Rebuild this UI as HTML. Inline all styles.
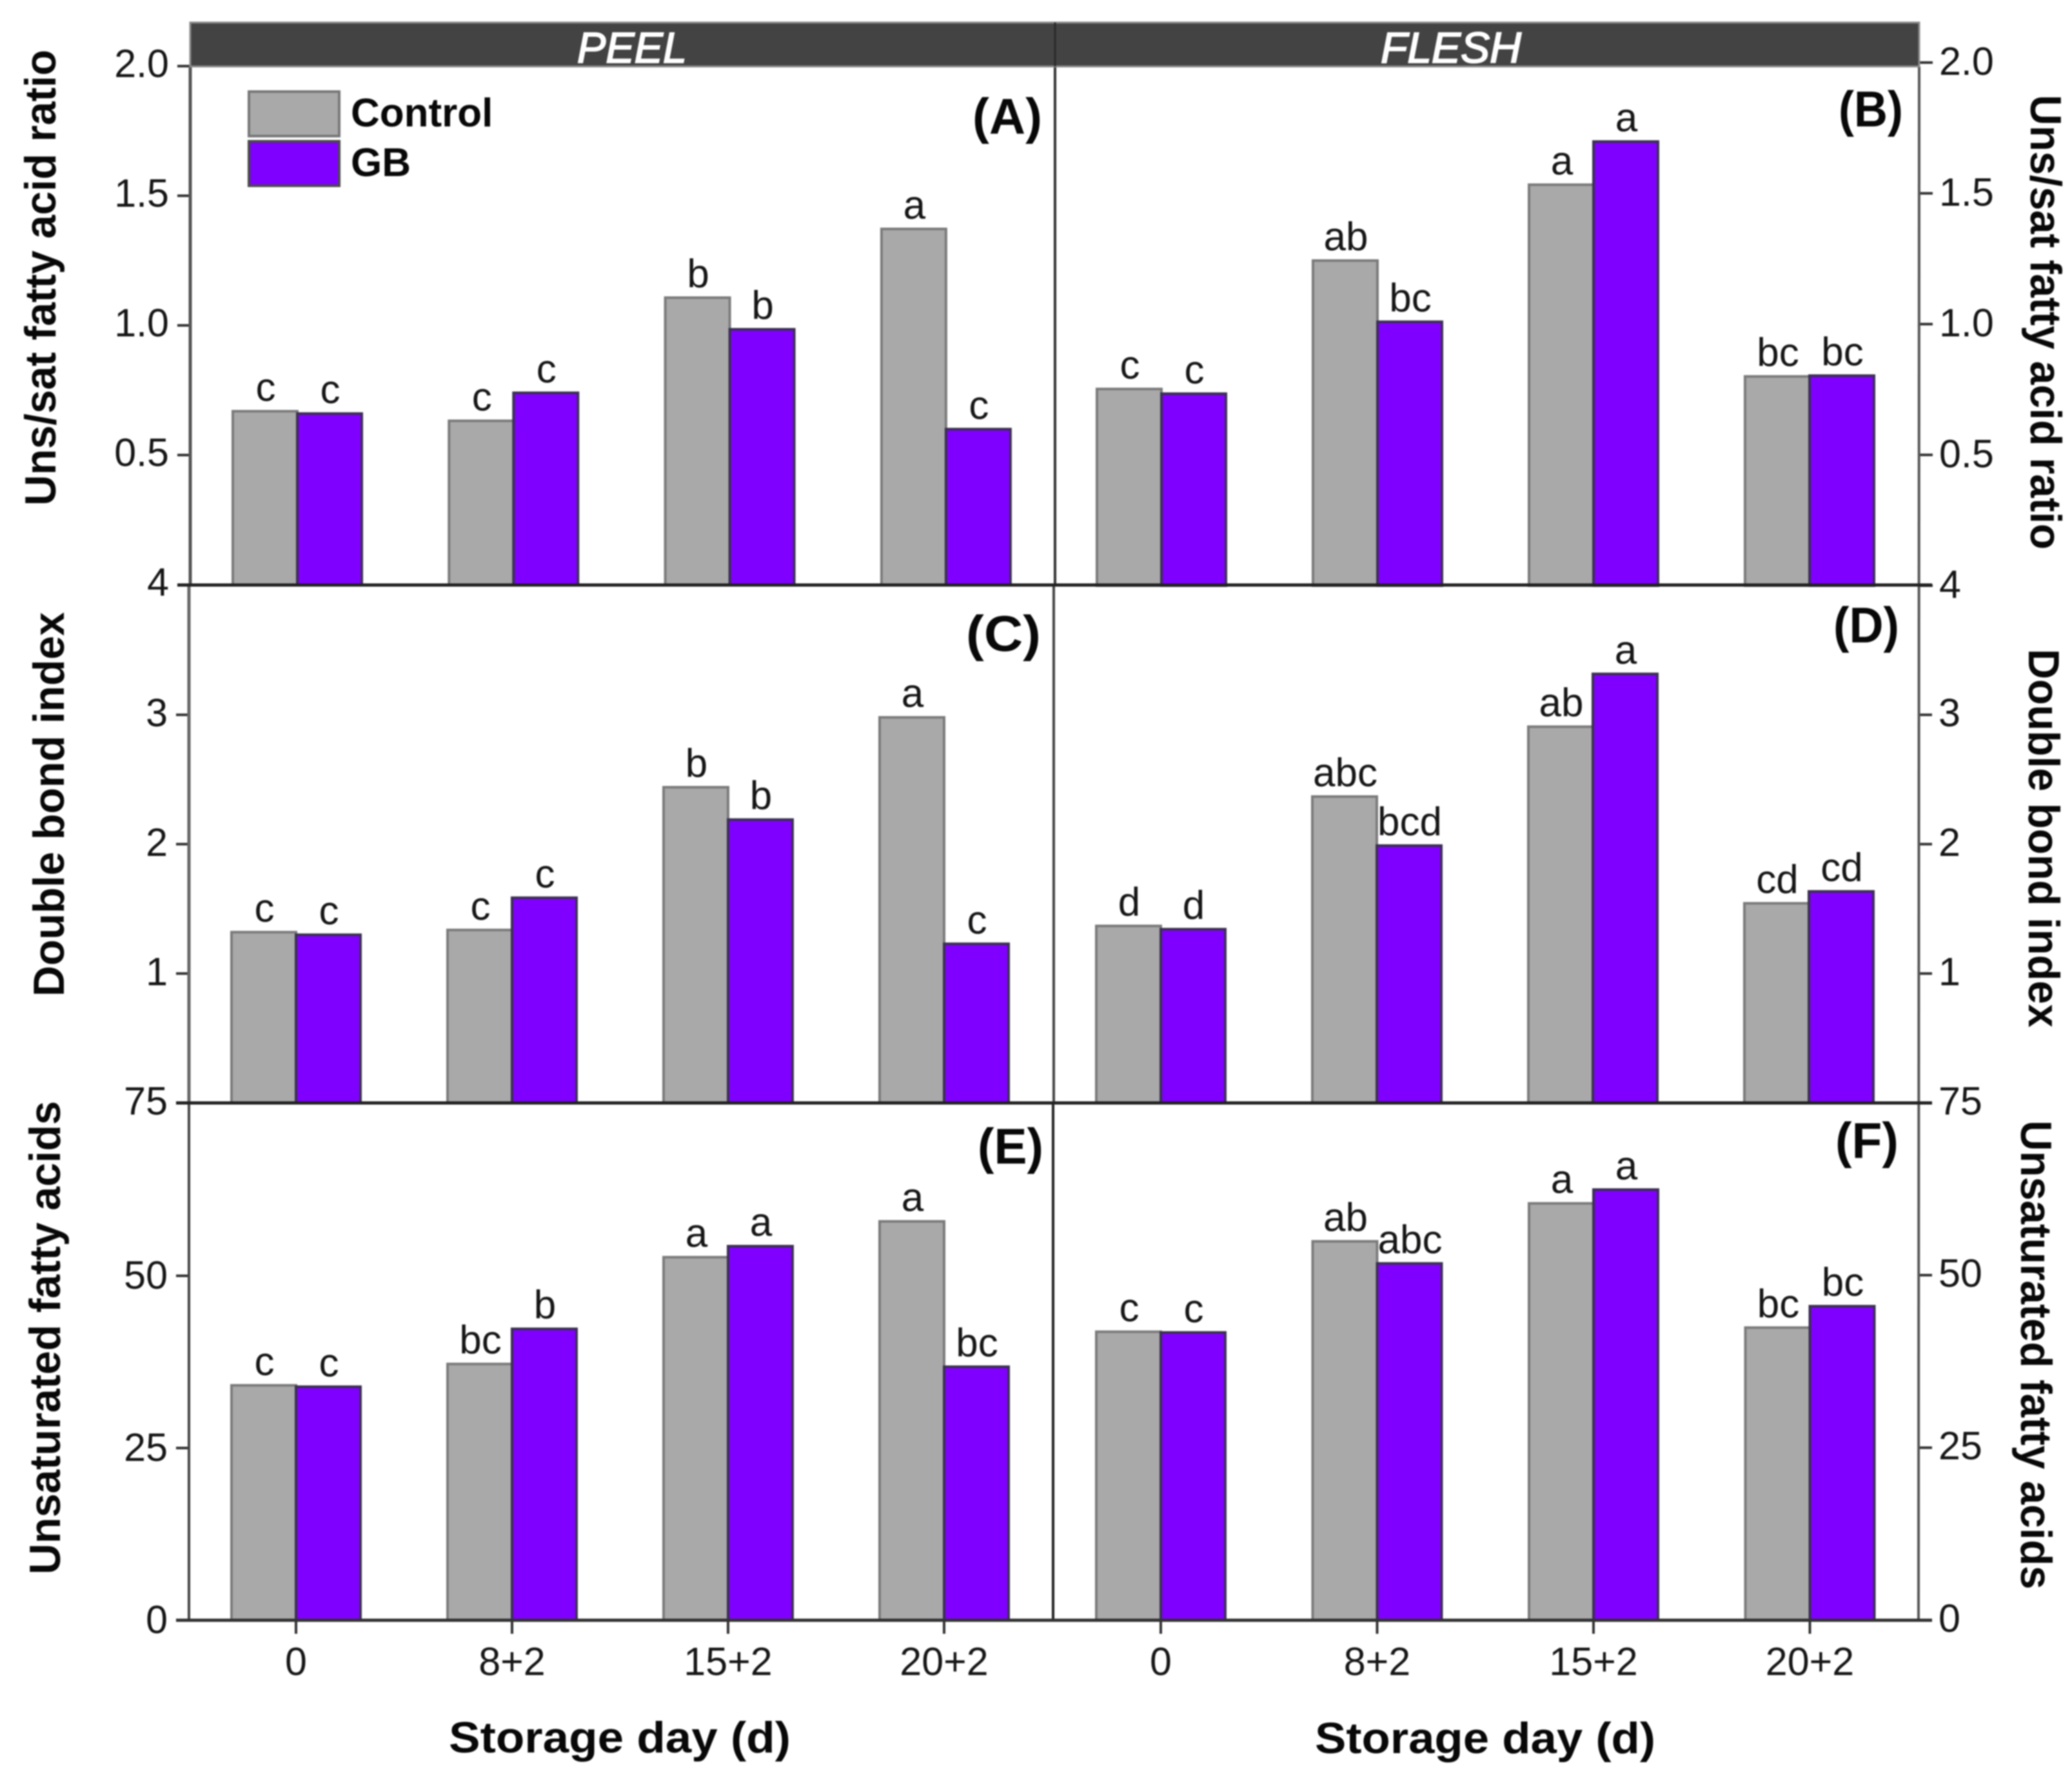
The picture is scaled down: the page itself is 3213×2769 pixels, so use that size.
<!DOCTYPE html>
<html lang="en">
<head>
<meta charset="utf-8">
<title>Fatty acid indices in peel and flesh</title>
<style>
  html, body { margin: 0; padding: 0; background: #fff; }
  #chart { display: block; width: 3213px; height: 2769px; filter: blur(1.1px); }
  text { font-family: "Liberation Sans", Arial, sans-serif; fill: #161616; }
  .tick { font-size: 61px; }
  .letter { font-size: 62px; text-anchor: middle; }
  .title { font-size: 68px; font-weight: bold; fill: #080808; }
  .panel-tag { font-size: 78px; font-weight: bold; text-anchor: end; fill: #080808; }
  .legend-text { font-size: 62px; font-weight: bold; fill: #080808; }
  .head { font-size: 67px; font-style: italic; fill: #fff; stroke: #fff; stroke-width: 2px; }
</style>
</head>
<body>
<svg id="chart" xmlns="http://www.w3.org/2000/svg" width="3213" height="2769" viewBox="0 0 3213 2769">
  <rect x="0" y="0" width="3213" height="2769" fill="#ffffff"/>
  <g id="marks"></g>

  <rect x="295" y="35" width="2681" height="68" fill="#434343" stroke="#8a8a8a" stroke-width="3"/>
  <line x1="1636" y1="35" x2="1636" y2="103" stroke="#2a2a2a" stroke-width="3"/>
  <text class="head" x="895" y="97" textLength="170" lengthAdjust="spacingAndGlyphs">PEEL</text>
  <text class="head" x="2141" y="97" textLength="218" lengthAdjust="spacingAndGlyphs">FLESH</text>

  <g>
    <rect x="386" y="142" width="140" height="69" fill="#a9a9a9" stroke="#777" stroke-width="4"/>
    <rect x="386" y="219" width="140" height="69" fill="#8000ff" stroke="#4a4a4a" stroke-width="4"/>
    <text class="legend-text" x="544" y="196">Control</text>
    <text class="legend-text" x="544" y="273">GB</text>
  </g>

  <text class="title" transform="translate(86,784) rotate(-90)" textLength="707" lengthAdjust="spacingAndGlyphs">Uns/sat fatty acid ratio</text>
  <text class="title" transform="translate(99,1545) rotate(-90)" textLength="596" lengthAdjust="spacingAndGlyphs">Double bond index</text>
  <text class="title" transform="translate(93,2441) rotate(-90)" textLength="734" lengthAdjust="spacingAndGlyphs">Unsaturated fatty acids</text>
  <text class="title" transform="translate(3149,147) rotate(90)" textLength="705" lengthAdjust="spacingAndGlyphs">Uns/sat fatty acid ratio</text>
  <text class="title" transform="translate(3146,1006) rotate(90)" textLength="587" lengthAdjust="spacingAndGlyphs">Double bond index</text>
  <text class="title" transform="translate(3134,1737) rotate(90)" textLength="727" lengthAdjust="spacingAndGlyphs">Unsaturated fatty acids</text>

  <text class="title" x="696" y="2717" textLength="530" lengthAdjust="spacingAndGlyphs">Storage day (d)</text>
  <text class="title" x="2039" y="2718" textLength="528" lengthAdjust="spacingAndGlyphs">Storage day (d)</text>

  <text class="panel-tag" x="1616" y="207" textLength="108" lengthAdjust="spacingAndGlyphs">(A)</text>
  <text class="panel-tag" x="2951" y="196" textLength="100" lengthAdjust="spacingAndGlyphs">(B)</text>
  <text class="panel-tag" x="1614" y="1009" textLength="116" lengthAdjust="spacingAndGlyphs">(C)</text>
  <text class="panel-tag" x="2945" y="996" textLength="102" lengthAdjust="spacingAndGlyphs">(D)</text>
  <text class="panel-tag" x="1618" y="1804" textLength="102" lengthAdjust="spacingAndGlyphs">(E)</text>
  <text class="panel-tag" x="2944" y="1795" textLength="98" lengthAdjust="spacingAndGlyphs">(F)</text>
</svg>

<script>
const categories = ['0', '8+2', '15+2', '20+2'];

const controlA = [0.669, 0.632, 1.107, 1.372];
const gbA = [0.66, 0.74, 0.985, 0.60];
const lettersControlA = ['c', 'c', 'b', 'a'];
const lettersGbA = ['c', 'c', 'b', 'c'];
const tickValuesA = [0, 0.5, 1, 1.5, 2];
const tickLabelsA = ['4', '0.5', '1.0', '1.5', '2.0'];

const controlB = [0.752, 1.243, 1.533, 0.80];
const gbB = [0.734, 1.009, 1.698, 0.803];
const lettersControlB = ['c', 'ab', 'a', 'bc'];
const lettersGbB = ['c', 'bc', 'a', 'bc'];
const tickValuesB = [0, 0.5, 1, 1.5, 2];
const tickLabelsB = ['4', '0.5', '1.0', '1.5', '2.0'];

const controlC = [1.32, 1.337, 2.44, 2.98];
const gbC = [1.30, 1.586, 2.19, 1.23];
const lettersControlC = ['c', 'c', 'b', 'a'];
const lettersGbC = ['c', 'c', 'b', 'c'];
const tickValuesC = [0, 1, 2, 3];
const tickLabelsC = ['75', '1', '2', '3'];

const controlD = [1.368, 2.368, 2.908, 1.543];
const gbD = [1.343, 1.989, 3.316, 1.635];
const lettersControlD = ['d', 'abc', 'ab', 'cd'];
const lettersGbD = ['d', 'bcd', 'a', 'cd'];
const tickValuesD = [0, 1, 2, 3];
const tickLabelsD = ['75', '1', '2', '3'];

const controlE = [34.1, 37.2, 52.7, 57.9];
const gbE = [33.9, 42.3, 54.3, 36.8];
const lettersControlE = ['c', 'bc', 'a', 'a'];
const lettersGbE = ['c', 'b', 'a', 'bc'];
const tickValuesE = [0, 25, 50];
const tickLabelsE = ['0', '25', '50'];

const controlF = [41.8, 54.9, 60.4, 42.4];
const gbF = [41.7, 51.7, 62.4, 45.5];
const lettersControlF = ['c', 'ab', 'a', 'bc'];
const lettersGbF = ['c', 'abc', 'a', 'bc'];
const tickValuesF = [0, 25, 50];
const tickLabelsF = ['0', '25', '50'];

const SVG_NS = 'http://www.w3.org/2000/svg';
const marks = document.getElementById('marks');

function make(tag, attrs, parent) {
  const el = document.createElementNS(SVG_NS, tag);
  for (const k in attrs) el.setAttribute(k, attrs[k]);
  parent.appendChild(el);
  return el;
}

function xScale(p, i) { return p.firstCenter + i * p.pitch; }
function yScale(p, v) { return p.base - v * p.unit; }

function drawPanel(p) {
  const g = make('g', {}, marks);
  
  
  const half = 100;

  categories.forEach(function (cat, i) {
    const cx = xScale(p, i);
    const topC = yScale(p, p.control[i]);
    const topG = yScale(p, p.gb[i]);

    const barC = make('rect', { x: cx - half, y: topC, width: half, height: p.base - topC, fill: '#a9a9a9', stroke: '#7b7b7b', 'stroke-width': 4 }, g);
    
    

    const barG = make('rect', { x: cx, y: topG, width: half, height: p.base - topG, fill: '#8000ff', stroke: '#3c3054', 'stroke-width': 4 }, g);
    
    

    const labC = make('text', { class: 'letter', x: cx - half / 2 + 1, y: topC - 16 }, g);
    labC.textContent = p.lettersControl[i];
    
    

    const labG = make('text', { class: 'letter', x: cx + half / 2 + 1, y: topG - 16 }, g);
    labG.textContent = p.lettersGb[i];
    
    

    if (p.showX) {
      const tk = make('line', { x1: cx, y1: p.base, x2: cx, y2: p.base + 21, stroke: '#333', 'stroke-width': 4 }, g);
      
      
      const tl = make('text', { class: 'tick', x: cx, y: p.base + 85, 'text-anchor': 'middle' }, g);
      tl.textContent = cat;
      
      
    }
  });

  p.tickValues.forEach(function (v, i) {
    const y = yScale(p, v);
    const x2 = p.side === 'left' ? p.axisX - 20 : p.axisX + 21;
    const tk = make('line', { x1: p.axisX, y1: y, x2: x2, y2: y, stroke: '#333', 'stroke-width': 4 }, g);
    
    
    const tx = p.side === 'left' ? p.axisX - 33 : p.axisX + 31;
    const anchor = p.side === 'left' ? 'end' : 'start';
    const tl = make('text', { class: 'tick', x: tx, y: y + p.labelDy, 'text-anchor': anchor }, g);
    tl.textContent = p.tickLabels[i];
    
    
  });
}

function drawFrameLine(name, x1, y1, x2, y2, color, width) {
  const ln = make('line', { x1: x1, y1: y1, x2: x2, y2: y2, stroke: color, 'stroke-width': width }, marks);
  
  
}

const panels = {
  a: { id: 'a', side: 'left', axisX: 295, firstCenter: 461, pitch: 335.3, base: 906.5, unit: 402, labelDy: 17, control: controlA, gb: gbA, lettersControl: lettersControlA, lettersGb: lettersGbA, tickValues: tickValuesA, tickLabels: tickLabelsA, showX: false },
  b: { id: 'b', side: 'right', axisX: 2976, firstCenter: 1801, pitch: 335, base: 908, unit: 405.5, labelDy: 19, control: controlB, gb: gbB, lettersControl: lettersControlB, lettersGb: lettersGbB, tickValues: tickValuesB, tickLabels: tickLabelsB, showX: false },
  c: { id: 'c', side: 'left', axisX: 293, firstCenter: 459, pitch: 335, base: 1710, unit: 200.6, labelDy: 18, control: controlC, gb: gbC, lettersControl: lettersControlC, lettersGb: lettersGbC, tickValues: tickValuesC, tickLabels: tickLabelsC, showX: false },
  d: { id: 'd', side: 'right', axisX: 2975, firstCenter: 1800, pitch: 335, base: 1710, unit: 200.6, labelDy: 18, control: controlD, gb: gbD, lettersControl: lettersControlD, lettersGb: lettersGbD, tickValues: tickValuesD, tickLabels: tickLabelsD, showX: false },
  e: { id: 'e', side: 'left', axisX: 293, firstCenter: 459, pitch: 335, base: 2512, unit: 10.68, labelDy: 20, control: controlE, gb: gbE, lettersControl: lettersControlE, lettersGb: lettersGbE, tickValues: tickValuesE, tickLabels: tickLabelsE, showX: true },
  f: { id: 'f', side: 'right', axisX: 2975, firstCenter: 1800, pitch: 335.5, base: 2512, unit: 10.7, labelDy: 18, control: controlF, gb: gbF, lettersControl: lettersControlF, lettersGb: lettersGbF, tickValues: tickValuesF, tickLabels: tickLabelsF, showX: true }
};

Object.keys(panels).forEach(function (k) { drawPanel(panels[k]); });

drawFrameLine('left-axis-top', 295, 103, 295, 907, '#555', 5);
drawFrameLine('left-axis-middle', 293, 907, 293, 1710, '#666', 5);
drawFrameLine('left-axis-bottom', 293, 1710, 293, 2512, '#444', 4);
drawFrameLine('right-axis', 2976, 103, 2975, 2512, '#555', 4);
drawFrameLine('center-divider-top', 1636, 103, 1636, 907, '#333', 4);
drawFrameLine('center-divider-middle', 1634, 907, 1634, 1710, '#444', 4);
drawFrameLine('center-divider-bottom', 1633, 1710, 1633, 2512, '#222', 4);
drawFrameLine('row-line-1', 275, 907, 2996, 907, '#222', 5);
drawFrameLine('row-line-2', 273, 1710, 2996, 1710, '#222', 5);
drawFrameLine('x-axis-baseline', 273, 2512, 2996, 2512, '#333', 5);
</script>
</body>
</html>
